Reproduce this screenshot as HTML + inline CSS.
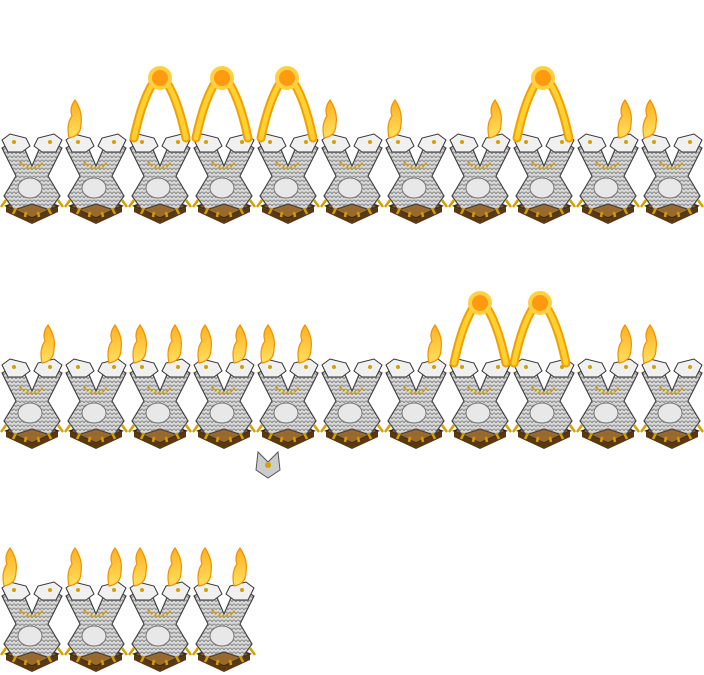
<!DOCTYPE html>
<html><head><meta charset="utf-8">
<style>html,body{margin:0;padding:0;background:#fff;}svg{display:block;}</style>
</head><body>
<svg id="s" width="704" height="675" viewBox="0 0 704 675" xmlns="http://www.w3.org/2000/svg">
<defs>
<pattern id="scale" width="4" height="4" patternUnits="userSpaceOnUse">
<rect width="4" height="4" fill="#d8d8d8"/><path d="M0 4 Q2 0 4 4" fill="none" stroke="#8a8a8a" stroke-width="1"/>
</pattern>
<linearGradient id="fl" x1="0" y1="1" x2="0" y2="0"><stop offset="0" stop-color="#ffe060"/><stop offset="1" stop-color="#ffb020"/></linearGradient>
</defs>
<g id="g"></g>
</svg>
<script>
const rowsTop = [130, 355, 578];
const rowCounts = [11, 11, 4];
const smallFlames = [[75,330,395,495,625,650],[48,115,140,175,205,240,268,305,435,625,650],[10,75,115,140,175,205,240]];
const arches = [[160,222,287,543],[480,540],[]];
const NS="http://www.w3.org/2000/svg";
const g=document.getElementById('g');
function el(t,a,p){const e=document.createElementNS(NS,t);for(const k in a)e.setAttribute(k,a[k]);(p||g).appendChild(e);return e;}
rowsTop.forEach((top,r)=>{
  for(let i=0;i<rowCounts[r];i++){
    const x=i*64;
    const grp=el('g',{transform:`translate(${x},${top})`});
    
    
    el('polygon',{points:'6,76 32,66 58,76 32,88',fill:'#9a6a2c',stroke:'#3a2410','stroke-width':1.5},grp);
    el('polygon',{points:'6,76 32,88 58,76 58,82 32,94 6,82',fill:'#5a3812'},grp);
    el('polygon',{points:'2,18 20,8 32,36 44,8 62,18 48,46 60,66 50,80 32,74 14,80 4,66 16,46',fill:'url(#scale)',stroke:'#444','stroke-width':1.2},grp);
    el('ellipse',{cx:30,cy:58,rx:12,ry:10,fill:'#e8e8e8',stroke:'#777','stroke-width':1},grp);
    el('path',{d:'M2 10 L10 4 L26 8 L30 16 L22 22 L8 22Z',fill:'#f0f0f0',stroke:'#333','stroke-width':1},grp);
    el('path',{d:'M62 10 L54 4 L38 8 L34 16 L42 22 L56 22Z',fill:'#f0f0f0',stroke:'#333','stroke-width':1},grp);
    el('circle',{cx:14,cy:12,r:2,fill:'#d4a000'},grp);
    el('circle',{cx:50,cy:12,r:2,fill:'#d4a000'},grp);
    el('path',{d:'M20 32 Q32 44 44 32',fill:'none',stroke:'#d4a000','stroke-width':3,'stroke-dasharray':'2 2'},grp);
    el('path',{d:'M6 70 l-5 7 M58 70 l5 7 M16 78 l-3 6 M48 78 l3 6 M26 82 l-1 5 M38 82 l1 5',stroke:'#d4a000','stroke-width':2.5},grp);
  }
  smallFlames[r].forEach(fx=>{
    const f=el('path',{d:`M${fx-6} ${top+8} Q${fx-9} ${top-6} ${fx-3} ${top-14} Q${fx-6} ${top-22} ${fx} ${top-30} Q${fx+8} ${top-18} ${fx+6} ${top-6} Q${fx+6} ${top+6} ${fx-6} ${top+8}Z`,fill:'url(#fl)',stroke:'#f09000','stroke-width':1.2});
    
    
  });
  arches[r].forEach(ax=>{
    const a=el('path',{d:`M${ax-26} ${top+8} Q${ax-16} ${top-40} ${ax} ${top-56} Q${ax+16} ${top-40} ${ax+26} ${top+8}`,fill:'none',stroke:'#f0a000','stroke-width':9,'stroke-linecap':'round'});
    
    
    const a2=el('path',{d:`M${ax-26} ${top+8} Q${ax-16} ${top-40} ${ax} ${top-56} Q${ax+16} ${top-40} ${ax+26} ${top+8}`,fill:'none',stroke:'#ffd030','stroke-width':5,'stroke-linecap':'round'});
    
    
    const c=el('circle',{cx:ax,cy:top-52,r:10,fill:'#ff9a10',stroke:'#ffd040','stroke-width':4});
    
    
  });
});
const it=el('g',{transform:'translate(256,450)'});


el('polygon',{points:'2,2 12,12 22,2 24,20 12,28 0,20',fill:'#ccc',stroke:'#555','stroke-width':1},it);
el('circle',{cx:12,cy:15,r:3,fill:'#d4a000'},it);
</script>
</body></html>
